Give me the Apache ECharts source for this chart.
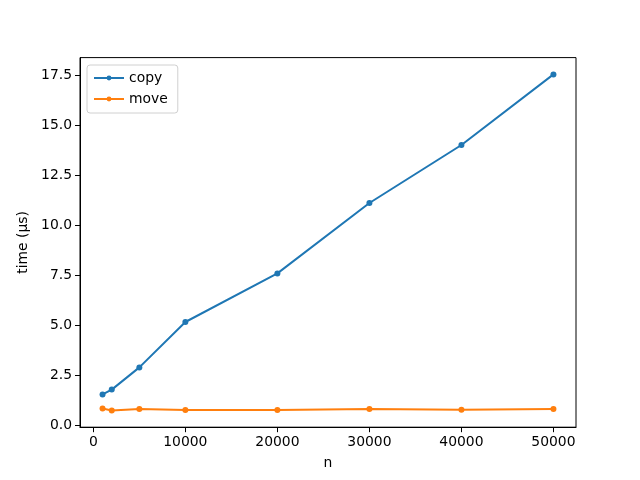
<!DOCTYPE html>
<html>
<head>
<meta charset="utf-8">
<script src="https://cdn.jsdelivr.net/npm/echarts@6/dist/echarts.min.js"></script>
<style>
  html, body { margin: 0; padding: 0; background: #fff; }
  #chart { width: 640px; height: 480px; }
</style>
</head>
<body>
<div id="chart"></div>
<script>
// data
var sizes = [1000, 2000, 5000, 10000, 20000, 30000, 40000, 50000];
var copyTimes = [1.53, 1.77, 2.88, 5.15, 7.58, 11.1, 14.0, 17.53];
var moveTimes = [0.82, 0.73, 0.8, 0.75, 0.75, 0.8, 0.76, 0.8];
var xTicks = [0, 10000, 20000, 30000, 40000, 50000];
var yTicks = [0, 2.5, 5, 7.5, 10, 12.5, 15, 17.5];

function pairs(xs, ys) {
    return xs.map(function (x, i) { return [x, ys[i]]; });
}

var font = 'DejaVu Sans';
var myChart = echarts.init(document.getElementById('chart'));

var option = {
    backgroundColor: '#fff',
    animation: false,
    textStyle: { fontFamily: font },
    grid: {
        left: 80, right: 64, top: 57.6, bottom: 52.8,
        show: true, borderColor: '#000', borderWidth: 1, backgroundColor: 'transparent'
    },
    legend: {
        orient: 'vertical',
        left: 87, top: 65,
        padding: [6, 10, 7, 6],
        itemGap: 7,
        itemWidth: 30,
        itemHeight: 6,
        backgroundColor: '#fff',
        borderColor: '#d0d0d0',
        borderWidth: 1,
        borderRadius: 3,
        textStyle: { fontFamily: font, fontSize: 13.9, color: '#000' },
        data: ['copy', 'move']
    },
    xAxis: {
        type: 'value',
        min: -1450, max: 52450,
        name: 'n',
        nameLocation: 'middle',
        nameGap: 29,
        nameTextStyle: { fontFamily: font, fontSize: 13.9, color: '#000' },
        splitLine: { show: false },
        axisLine: { show: true, onZero: false, lineStyle: { color: '#000', width: 1 } },
        axisTick: { show: true, length: 5, customValues: xTicks, lineStyle: { color: '#000' } },
        axisLabel: {
            customValues: xTicks, margin: 8,
            fontFamily: font, fontSize: 13.9, color: '#000',
            formatter: function (v) { return String(v); }
        }
    },
    yAxis: {
        type: 'value',
        min: -0.11, max: 18.37,
        name: 'time (µs)',
        nameLocation: 'middle',
        nameGap: 46,
        nameTextStyle: { fontFamily: font, fontSize: 13.9, color: '#000' },
        splitLine: { show: false },
        axisLine: { show: true, onZero: false, lineStyle: { color: '#000', width: 1 } },
        axisTick: { show: true, length: 5, customValues: yTicks, lineStyle: { color: '#000' } },
        axisLabel: {
            customValues: yTicks, margin: 8,
            fontFamily: font, fontSize: 13.9, color: '#000',
            formatter: function (v) { return v.toFixed(1); }
        }
    },
    series: [
        {
            name: 'copy',
            type: 'line',
            data: pairs(sizes, copyTimes),
            symbol: 'circle',
            symbolSize: 6,
            lineStyle: { color: '#1f77b4', width: 2 },
            itemStyle: { color: '#1f77b4' }
        },
        {
            name: 'move',
            type: 'line',
            data: pairs(sizes, moveTimes),
            symbol: 'circle',
            symbolSize: 6,
            lineStyle: { color: '#ff7f0e', width: 2 },
            itemStyle: { color: '#ff7f0e' }
        }
    ]
};

myChart.setOption(option);
</script>
</body>
</html>
